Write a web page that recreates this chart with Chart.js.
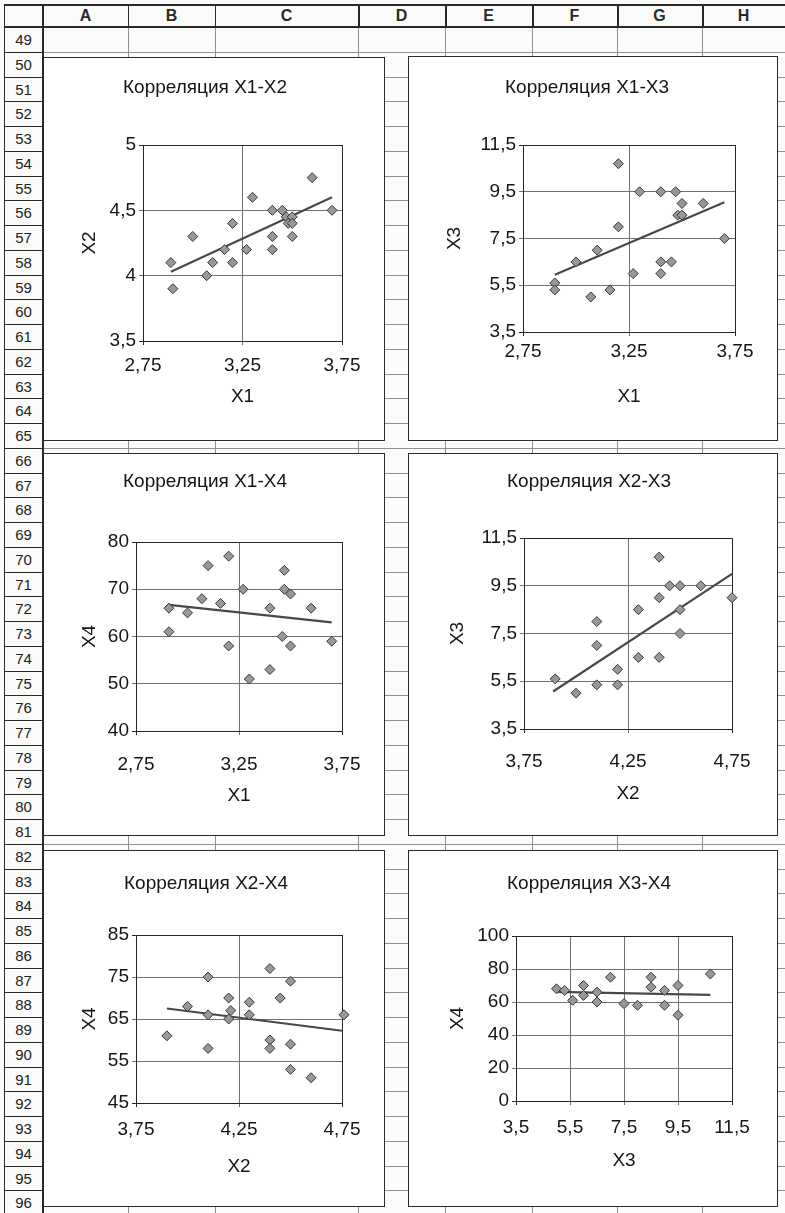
<!DOCTYPE html>
<html>
<head>
<meta charset="utf-8">
<script src="https://cdn.jsdelivr.net/npm/chart.js@4/dist/chart.umd.min.js"></script>
<style>
  body { margin: 0; background: #fbfbf9; }
  #sheet { position: relative; width: 785px; height: 1213px; overflow: hidden;
           font-family: 'Liberation Sans', Arial, sans-serif; color: #1a1a1a; }
  .ln { position: absolute; background: #8f8f8f; }
  .dk { background: #2a2a2a; }
  .hdr { position: absolute; top: 5px; height: 22px; line-height: 22px; text-align: center;
         font-weight: bold; font-size: 16px; color: #2a2a2a; }
  .rn { position: absolute; left: 5px; width: 37px; text-align: center; font-size: 15px; color: #222; }
  .frame { position: absolute; box-sizing: border-box; border: 1px solid #2b2b2b; background: #fff; }
  .frame canvas { position: absolute; left: 0; top: 0; }
</style>
</head>
<body>
<div id="sheet"></div>
<script>
// ---- observations ----
// Корреляция X1-X2
const x12 = [2.89, 2.90, 3.00, 3.07, 3.10, 3.16, 3.20, 3.20, 3.27, 3.30, 3.40, 3.40, 3.40, 3.45, 3.47, 3.48, 3.50, 3.50, 3.50, 3.60, 3.70];
const y12 = [4.10, 3.90, 4.30, 4.00, 4.10, 4.20, 4.40, 4.10, 4.20, 4.60, 4.50, 4.30, 4.20, 4.50, 4.45, 4.40, 4.45, 4.40, 4.30, 4.75, 4.50];
const trend12X = [2.89, 3.70];
const trend12Y = [4.03, 4.60];

// Корреляция X1-X3
const x13 = [2.90, 2.90, 3.00, 3.07, 3.10, 3.16, 3.20, 3.20, 3.27, 3.30, 3.40, 3.40, 3.40, 3.45, 3.47, 3.48, 3.50, 3.50, 3.60, 3.70];
const y13 = [5.6, 5.3, 6.5, 5.0, 7.0, 5.3, 10.7, 8.0, 6.0, 9.5, 9.5, 6.5, 6.0, 6.5, 9.5, 8.5, 9.0, 8.5, 9.0, 7.5];
const trend13X = [2.90, 3.70];
const trend13Y = [5.95, 9.05];

// Корреляция X1-X4
const x14 = [2.91, 2.91, 3.00, 3.07, 3.10, 3.16, 3.20, 3.20, 3.27, 3.30, 3.40, 3.40, 3.46, 3.47, 3.47, 3.50, 3.50, 3.60, 3.70];
const y14 = [66, 61, 65, 68, 75, 67, 77, 58, 70, 51, 66, 53, 60, 74, 70, 69, 58, 66, 59];
const trend14X = [2.91, 3.70];
const trend14Y = [66.7, 63.0];

// Корреляция X2-X3
const x23 = [3.90, 4.00, 4.10, 4.10, 4.10, 4.20, 4.20, 4.30, 4.30, 4.40, 4.40, 4.40, 4.45, 4.50, 4.50, 4.50, 4.60, 4.75];
const y23 = [5.6, 5.0, 8.0, 7.0, 5.35, 6.0, 5.35, 8.5, 6.5, 6.5, 10.7, 9.0, 9.5, 9.5, 8.5, 7.5, 9.5, 9.0];
const trend23X = [3.89, 4.75];
const trend23Y = [5.07, 10.0];

// Корреляция X2-X4
const x24 = [3.90, 4.00, 4.10, 4.10, 4.10, 4.20, 4.21, 4.20, 4.30, 4.30, 4.40, 4.40, 4.40, 4.45, 4.50, 4.50, 4.50, 4.60, 4.76];
const y24 = [61, 68, 75, 66, 58, 70, 67, 65, 69, 66, 77, 60, 58, 70, 74, 59, 53, 51, 66];
const trend24X = [3.90, 4.75];
const trend24Y = [67.5, 62.2];

// Корреляция X3-X4
const x34 = [5.0, 5.3, 5.6, 6.0, 6.0, 6.5, 6.5, 7.0, 7.5, 8.0, 8.5, 8.5, 9.0, 9.0, 9.5, 9.5, 10.7];
const y34 = [68, 67, 61, 70, 64, 66, 60, 75, 59, 58, 75, 69, 67, 58, 70, 52, 77];
const trend34X = [4.95, 10.7];
const trend34Y = [66.1, 64.3];

// ---- axis ticks ----
const ticksX1 = [2.75, 3.25, 3.75];
const ticksX2 = [3.75, 4.25, 4.75];
const ticksX3 = [3.5, 5.5, 7.5, 9.5, 11.5];
const ticksY2 = [3.5, 4, 4.5, 5];
const ticksY3 = [3.5, 5.5, 7.5, 9.5, 11.5];
const ticksY4a = [40, 50, 60, 70, 80];
const ticksY4b = [45, 55, 65, 75, 85];
const ticksY4c = [0, 20, 40, 60, 80, 100];

// ---- worksheet background ----
const sheet = document.getElementById('sheet');
const COL_EDGES = [43, 128, 215, 358, 445, 532, 617, 702, 785];
const COL_NAMES = ['A', 'B', 'C', 'D', 'E', 'F', 'G', 'H'];
const ROW_TOP = 27, ROW_H = 24.75, FIRST_ROW = 49, LAST_ROW = 96;

function rect(cls, l, t, w, h) {
  const d = document.createElement('div');
  d.className = cls;
  Object.assign(d.style, { left: l + 'px', top: t + 'px', width: w + 'px', height: h + 'px' });
  sheet.appendChild(d);
  return d;
}

// cell grid
for (let r = 0; r <= LAST_ROW - FIRST_ROW + 1; r++) {
  const y = Math.round(ROW_TOP + r * ROW_H);
  rect('ln', 43, y, 742, 1);
  rect('ln dk', 4, y, 39, 1);
}
for (let c = 1; c < COL_EDGES.length - 1; c++) {
  rect('ln', COL_EDGES[c], ROW_TOP, 1, 1213 - ROW_TOP);
}
// column header band
rect('ln dk', 4, 4, 781, 2);
rect('ln dk', 4, 26, 781, 2);
rect('ln dk', 4, 4, 1, 1209);
rect('ln dk', 42, 4, 2, 1209);
for (let c = 1; c < COL_EDGES.length - 1; c++) {
  rect('ln dk', COL_EDGES[c], 4, c >= 3 ? 2 : 1, 23);
}
COL_NAMES.forEach((name, i) => {
  const d = rect('hdr', COL_EDGES[i], 5, COL_EDGES[i + 1] - COL_EDGES[i], 22);
  d.textContent = name;
});
// row numbers
for (let n = FIRST_ROW; n <= LAST_ROW; n++) {
  const top = ROW_TOP + (n - FIRST_ROW) * ROW_H;
  const d = rect('rn', 5, Math.round(top) + 1, 37, 24);
  d.style.lineHeight = '24px';
  d.textContent = n;
}

// ---- charts ----
const FONT = "'Liberation Sans', Arial, sans-serif";
const TEXT = '#151515';
const FS = 19;          // font size of every chart text
const LH = FS * 1.2;    // Chart.js default line height
const TICK_LEN = 4;

Chart.defaults.font.family = FONT;
Chart.defaults.color = TEXT;

const fmt = v => String(+(+v).toFixed(2)).replace('.', ',');
const pairs = (xs, ys) => xs.map((x, i) => ({ x, y: ys[i] }));

function gridColor(n) {
  return c => (c.index === 0 || c.index === n - 1) ? '#262626' : '#707070';
}

function scatterChart(cfg) {
  const { frame, plot } = cfg;
  const box = rect('frame', frame.l, frame.t, frame.r - frame.l, frame.b - frame.t);
  const cw = frame.r - frame.l - 2, ch = frame.b - frame.t - 2;
  const cl = frame.l + 1, ct = frame.t + 1;
  const canvas = document.createElement('canvas');
  canvas.width = cw; canvas.height = ch;
  canvas.style.width = cw + 'px'; canvas.style.height = ch + 'px';
  box.appendChild(canvas);

  const padR = cl + cw - plot.R;
  const padL = Math.max(0, 2 * (cfg.titleCx - cl) - (plot.R - cl));
  const yW = plot.L - cl - padL;
  const tTop = cfg.titleCy - ct - LH / 2;
  const tBot = plot.T - ct - tTop - LH;
  const xBottom = cfg.xTitleCy + LH / 2;
  const xH = xBottom - plot.B;
  const padB = Math.max(0, ct + ch - xBottom);
  const xTickPad = cfg.xTickCy - plot.B - TICK_LEN - LH / 2;
  const yTitlePad = Math.max(0, cfg.yTitleCx - cl - padL - LH / 2);

  new Chart(canvas, {
    type: 'scatter',
    data: {
      datasets: [
        {
          data: pairs(cfg.xs, cfg.ys),
          pointStyle: 'rectRot',
          pointRadius: 5,
          backgroundColor: '#989898',
          borderColor: '#383838',
          borderWidth: 1,
          clip: false,
          order: 1
        },
        {
          data: pairs(cfg.tx, cfg.ty),
          showLine: true,
          pointRadius: 0,
          borderColor: '#484848',
          borderWidth: 2.2,
          clip: false,
          order: 2
        }
      ]
    },
    options: {
      responsive: false,
      animation: false,
      devicePixelRatio: 1,
      layout: { padding: { left: padL, right: padR, top: 0, bottom: padB } },
      plugins: {
        legend: { display: false },
        tooltip: { enabled: false },
        title: {
          display: true, text: cfg.title, color: TEXT,
          font: { size: FS, weight: 'normal' },
          padding: { top: tTop, bottom: tBot }
        }
      },
      scales: {
        x: {
          type: 'linear',
          min: cfg.xTicks[0], max: cfg.xTicks[cfg.xTicks.length - 1],
          afterBuildTicks: s => { s.ticks = cfg.xTicks.map(v => ({ value: v })); },
          afterFit: s => { s.height = xH; },
          grid: { color: gridColor(cfg.xTicks.length), tickLength: TICK_LEN, lineWidth: 1 },
          border: { color: '#262626', width: 1 },
          ticks: { padding: xTickPad, font: { size: FS }, color: TEXT, autoSkip: false, maxRotation: 0,
                   callback: v => fmt(v) },
          title: { display: true, text: cfg.xLabel, color: TEXT, font: { size: FS }, padding: { top: 0, bottom: 0 } }
        },
        y: {
          type: 'linear',
          min: cfg.yTicks[0], max: cfg.yTicks[cfg.yTicks.length - 1],
          afterBuildTicks: s => { s.ticks = cfg.yTicks.map(v => ({ value: v })); },
          afterFit: s => { s.width = yW; },
          grid: { color: gridColor(cfg.yTicks.length), tickLength: TICK_LEN, lineWidth: 1 },
          border: { color: '#262626', width: 1 },
          ticks: { padding: 3, font: { size: FS }, color: TEXT, autoSkip: false,
                   callback: v => fmt(v) },
          title: { display: true, text: cfg.yLabel, color: TEXT, font: { size: FS }, padding: { top: yTitlePad, bottom: 0 } }
        }
      }
    }
  });
}

scatterChart({
  title: 'Корреляция X1-X2', xLabel: 'X1', yLabel: 'X2',
  xs: x12, ys: y12, tx: trend12X, ty: trend12Y, xTicks: ticksX1, yTicks: ticksY2,
  frame: { l: 43, t: 57, r: 385, b: 441 }, plot: { L: 143, T: 145, R: 342, B: 341 },
  titleCx: 205, titleCy: 88, yTitleCx: 90, xTickCy: 366, xTitleCy: 397
});
scatterChart({
  title: 'Корреляция X1-X3', xLabel: 'X1', yLabel: 'X3',
  xs: x13, ys: y13, tx: trend13X, ty: trend13Y, xTicks: ticksX1, yTicks: ticksY3,
  frame: { l: 408, t: 56, r: 778, b: 441 }, plot: { L: 523, T: 145, R: 735, B: 332 },
  titleCx: 587, titleCy: 88, yTitleCx: 455, xTickCy: 352, xTitleCy: 397
});
scatterChart({
  title: 'Корреляция X1-X4', xLabel: 'X1', yLabel: 'X4',
  xs: x14, ys: y14, tx: trend14X, ty: trend14Y, xTicks: ticksX1, yTicks: ticksY4a,
  frame: { l: 43, t: 453, r: 385, b: 836 }, plot: { L: 136, T: 542, R: 342, B: 731 },
  titleCx: 205, titleCy: 482, yTitleCx: 90, xTickCy: 765, xTitleCy: 796
});
scatterChart({
  title: 'Корреляция X2-X3', xLabel: 'X2', yLabel: 'X3',
  xs: x23, ys: y23, tx: trend23X, ty: trend23Y, xTicks: ticksX2, yTicks: ticksY3,
  frame: { l: 408, t: 453, r: 778, b: 836 }, plot: { L: 524, T: 538, R: 732, B: 729 },
  titleCx: 589, titleCy: 482, yTitleCx: 455, xTickCy: 762, xTitleCy: 794
});
scatterChart({
  title: 'Корреляция X2-X4', xLabel: 'X2', yLabel: 'X4',
  xs: x24, ys: y24, tx: trend24X, ty: trend24Y, xTicks: ticksX2, yTicks: ticksY4b,
  frame: { l: 43, t: 850, r: 385, b: 1207 }, plot: { L: 136, T: 935, R: 342, B: 1103 },
  titleCx: 206, titleCy: 884, yTitleCx: 90, xTickCy: 1130, xTitleCy: 1167
});
scatterChart({
  title: 'Корреляция X3-X4', xLabel: 'X3', yLabel: 'X4',
  xs: x34, ys: y34, tx: trend34X, ty: trend34Y, xTicks: ticksX3, yTicks: ticksY4c,
  frame: { l: 408, t: 850, r: 778, b: 1207 }, plot: { L: 516, T: 936, R: 732, B: 1101 },
  titleCx: 589, titleCy: 884, yTitleCx: 455, xTickCy: 1128, xTitleCy: 1161
});
</script>
</body>
</html>
